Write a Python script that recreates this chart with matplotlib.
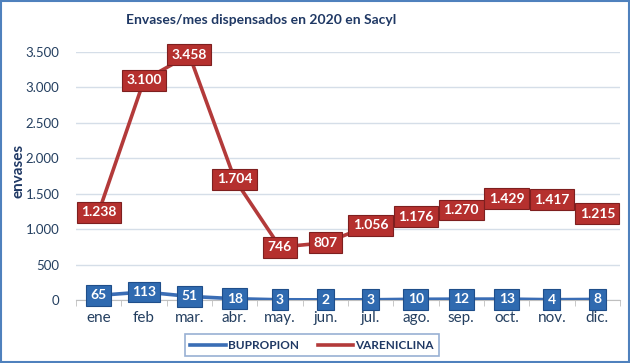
import numpy as np
import matplotlib.pyplot as plt
from matplotlib.patches import Rectangle
from matplotlib.ticker import FuncFormatter

months = ['ene', 'feb', 'mar.', 'abr.', 'may.', 'jun.', 'jul.', 'ago.', 'sep.', 'oct.', 'nov.', 'dic.']
bupropion = [65, 113, 51, 18, 3, 2, 3, 10, 12, 13, 4, 8]
vareniclina = [1238, 3100, 3458, 1704, 746, 807, 1056, 1176, 1270, 1429, 1417, 1215]

navy = '#1F3864'
tick_col = '#243F60'
blue = '#3A6DB5'
red = '#B33A3A'

plt.rcParams['font.family'] = ['Lato', 'DejaVu Sans']

fig = plt.figure(figsize=(6.3, 3.63), dpi=100)
ax = fig.add_axes([0.1206, 0.1736, 0.8635, 0.6834])

x = np.arange(len(months))
ax.plot(x, bupropion, color=blue, lw=2.6, zorder=3, label='BUPROPION')
ax.plot(x, vareniclina, color=red, lw=2.6, zorder=3, label='VARENICLINA')


def fmt(v):
    return '{:,}'.format(int(v)).replace(',', '.')


for xi, v in zip(x, bupropion):
    ax.text(xi, v, fmt(v), ha='center', va='center', color='white', fontsize=10,
            fontweight='bold', zorder=5,
            bbox=dict(boxstyle='square,pad=0.32', fc='#2F6AB0', ec='#1F4E8A', lw=0.8))
for xi, v in zip(x, vareniclina):
    ax.text(xi, v, fmt(v), ha='center', va='center', color='white', fontsize=10,
            fontweight='bold', zorder=5,
            bbox=dict(boxstyle='square,pad=0.32', fc='#B5302E', ec='#7E1F1F', lw=0.8))

ax.set_xlim(-0.5, len(months) - 0.5)
ax.set_ylim(0, 3500)
ax.set_yticks(np.arange(0, 3501, 500))
ax.yaxis.set_major_formatter(FuncFormatter(lambda v, p: fmt(v)))
ax.set_xticks(x)
ax.set_xticklabels(months)
ax.set_xticks(np.arange(-0.5, len(months), 1), minor=True)
ax.tick_params(axis='x', which='major', length=0, labelsize=11, colors=tick_col, pad=8)
ax.tick_params(axis='x', which='minor', length=4, color='#BFBFBF', direction='out')
ax.tick_params(axis='y', length=0, labelsize=9.5, colors=tick_col, pad=12)
ax.grid(axis='y', color='#D5DEE8', lw=1)
ax.set_axisbelow(True)
for s in ['top', 'right', 'left']:
    ax.spines[s].set_visible(False)
ax.spines['bottom'].set_color('#BFBFBF')

fig.text(0.03, 0.53, 'envases', rotation=90, ha='center', va='center', color=navy,
         fontsize=11, fontweight='bold')
fig.text(0.415, 0.945, 'Envases/mes dispensados en 2020 en Sacyl', ha='center', va='center',
         color=navy, fontsize=10, fontweight='bold')

leg = ax.legend(loc='upper center', bbox_to_anchor=(0.434, -0.115), ncol=2, frameon=True,
                fancybox=False, edgecolor='#7F9CC8', fontsize=8.5, handlelength=3.0,
                columnspacing=1.6, handletextpad=0.2, borderpad=0.45)
leg.get_frame().set_linewidth(1.2)
for t in leg.get_texts():
    t.set_color(navy)
    t.set_fontweight('bold')

fig.patches.append(Rectangle((0.002, 0.003), 0.996, 0.994, transform=fig.transFigure,
                             fill=False, ec='#4F81BD', lw=1.5))

fig.savefig('out.png', dpi=100)
